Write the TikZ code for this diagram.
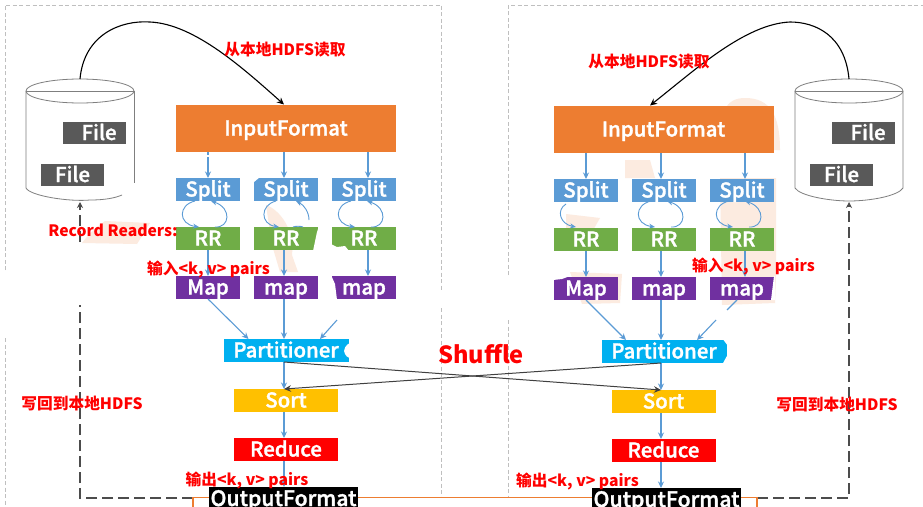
\documentclass[tikz,border=0pt]{standalone}
\usepackage{fontspec}
\usetikzlibrary{arrows.meta}
\setmainfont{Noto Sans CJK SC}
\newfontfamily\whitefont{Noto Sans CJK SC}[UprightFont=* Medium,FakeBold=1.5]
\definecolor{cgrid}{HTML}{BFBFBF}
\definecolor{cblue}{HTML}{5B9BD5}
\definecolor{corange}{HTML}{ED7D31}
\definecolor{cgreen}{HTML}{70AD47}
\definecolor{cpurple}{HTML}{7030A0}
\definecolor{ccyan}{HTML}{00B0F0}
\definecolor{cyellow}{HTML}{FFC000}
\definecolor{cpeach}{HTML}{FCEBE0}
\definecolor{cfile}{HTML}{595959}
\definecolor{cline}{HTML}{7F7F7F}
\tikzset{
  x=1pt,y=-1pt,
  frameline/.style={draw=cgrid,line width=0.8pt,dash pattern=on 4pt off 2.5pt},
  block/.style={inner sep=0pt,outer sep=0pt,text=white,font=\whitefont\fontsize{20.4}{21}\selectfont,text height=14pt,text depth=0pt,align=center},
  small/.style={block,minimum width=64pt,minimum height=23pt},
  wide/.style={block,minimum width=104pt,minimum height=23pt},
  splitbox/.style={small,fill=cblue},
  rrbox/.style={small,fill=cgreen},
  mapbox/.style={small,fill=cpurple},
  inbox/.style={block,fill=corange,minimum width=220pt,minimum height=47pt},
  partbox/.style={block,fill=ccyan,minimum width=125pt,minimum height=23pt},
  sortbox/.style={wide,fill=cyellow},
  redbox/.style={wide,fill=red},
  outbox/.style={block,fill=black,minimum width=149pt,minimum height=30pt,text height=16pt,text depth=8pt,font=\whitefont\fontsize{21.2}{22}\selectfont},
  filebox/.style={block,fill=cfile,minimum width=63pt,minimum height=22pt},
  flow/.style={draw=cblue,line width=1.1pt,-{Stealth[length=6.5pt,width=6pt]}},
  loopline/.style={draw=cblue,line width=0.9pt,-{Stealth[length=6pt,width=5pt]}},
  cross/.style={draw=black!75,line width=1pt,-{Stealth[length=7pt,width=6.5pt]}},
  curved/.style={draw=black,line width=1.1pt,-{Stealth[length=7pt,width=6.5pt]}},
  back/.style={draw=black!70,line width=1.3pt,dash pattern=on 11pt off 5pt},
  backtip/.style={back,-{Stealth[length=6pt,width=6pt]}},
  cyl/.style={draw=cline,line width=0.8pt},
  note/.style={inner sep=0pt,text=red,font=\bfseries\fontsize{15.7}{16}\selectfont},
  peach/.style={fill=cpeach,draw=none},
  orangeline/.style={draw=corange,line width=1.5pt},
}
\newcommand{\looppair}[1]{%
  \draw[loopline] (#1+19,201) .. controls (#1+2,205) and (#1+2,224) .. (#1+23,227);
  \draw[loopline] (#1+39,227) .. controls (#1+54,228) and (#1+56,208) .. (#1+35,201);
}
\begin{document}
\begin{tikzpicture}
\useasboundingbox (0,0) rectangle (923,506);
\clip (0,0) rectangle (923,506);
\fill[white] (0,0) rectangle (923,506);
% peach remains
\path[peach] (82,243) .. controls (90,232) and (100,225) .. (105,221) -- (150,223) -- (137,244) -- cycle;
\path[peach] (266,205) .. controls (280,210) and (295,230) .. (292,255) -- (298,272) -- (280,272) -- (272,245) -- cycle;
\path[peach] (725,110) .. controls (728,102) and (735,98) .. (745,98) .. controls (770,98) and (780,115) .. (780,150) -- (725,150) -- cycle;
\path[peach] (720,178) -- (776,178) -- (776,275) -- (775,303) -- (722,305) -- cycle;
\path[peach] (566,214) -- (600,218) -- (592,232) -- (566,232) -- cycle;
\path[peach] (570,272) -- (622,274) -- (620,303) -- (582,304) -- cycle;
\path[peach] (625,160) -- (650,160) -- (655,178) -- (625,178) -- cycle;
% frames
\coordinate (la) at (5,270); \coordinate (lb) at (5,5); \coordinate (lc) at (441,5); \coordinate (ld) at (441,290);
\draw[frameline] (la) -- (lb) -- (lc) -- (ld);
\coordinate (le) at (5,338); \coordinate (lf) at (5,506); \draw[frameline] (le) -- (lf);
\coordinate (lg) at (441,308); \coordinate (lh) at (441,506); \draw[frameline] (lg) -- (lh);
\coordinate (ra) at (508,275); \coordinate (rb) at (508,5); \coordinate (rc) at (923,5);
\draw[frameline] (ra) -- (rb) -- (rc);
\coordinate (rd) at (508,320); \coordinate (re) at (508,506); \draw[frameline] (rd) -- (re);
% dashed write-back lines and the bottom frame, below the black boxes
\coordinate (cylb) at (80,202); \coordinate (cyld) at (849,202);
\coordinate (ba) at (209,498); \coordinate (bb) at (80,498); \coordinate (bc) at (80,305); \coordinate (bd) at (80,242);
\draw[back] (ba) -- (bb) -- (bc);
\draw[backtip] (bd) -- (cylb);
\coordinate (bf) at (741,498); \coordinate (bg) at (849,498);
\draw[backtip] (bf) -- (bg) -- (cyld);
\coordinate (oa) at (193,510); \coordinate (ob) at (193,497.5); \coordinate (oc) at (757,497.5); \coordinate (od) at (757,510);
\fill[white] (oa) -- (ob) -- (oc) -- (od) -- cycle;
% cylinders
\draw[cyl] (26,91) -- (26,188) .. controls (30,196) and (70,202) .. (90,200) .. controls (105,200) and (115,198) .. (122,195);
\draw[cyl] (134,91) -- (134,183);
\draw[cyl] (80,91) ellipse [x radius=54,y radius=12];
\draw[cyl] (26,91) -- (134,91);
\draw[cyl] (795,91) -- (795,188) .. controls (800,196) and (830,201) .. (849,201) .. controls (870,201) and (898,196) .. (903,188) -- (903,91);
\draw[cyl] (849,91) ellipse [x radius=54,y radius=12];
\draw[cyl] (795,91) -- (903,91);
\node[filebox] (fa) at (94.5,133) {\ \ File};
\node[filebox] (fb) at (72.5,175) {File};
\node[filebox] (fc) at (863.5,133) {\ \ File};
\node[filebox] (fd) at (841.5,175) {File};
\coordinate (cyla) at (80,79);
\coordinate (cylc) at (849,79);
% left column
\node[inbox] (in1) at (286,128.5) {InputFormat};
\node[splitbox] (s1) at (208,189.5) {Split};
\node[splitbox] (s2) at (286,189.5) {Split};
\node[splitbox] (s3) at (364,189.5) {Split};
\node[rrbox] (r1) at (208,238.5) {RR};
\node[rrbox] (r2) at (286,238.5) {RR};
\node[rrbox] (r3) at (364,238.5) {RR};
\node[mapbox] (m1) at (208,287.5) {Map};
\node[mapbox] (m2) at (286,287.5) {map};
\node[mapbox] (m3) at (364,287.5) {map};
\node[partbox] (p) at (286,350.5) {Partitioner};
\node[sortbox] (so) at (286,400.5) {Sort};
\node[redbox] (re1) at (286,449.5) {Reduce};
\node[outbox] (o) at (283.5,502) {OutputFormat};
% right column
\node[inbox] (in2) at (663.5,129.5) {InputFormat};
\node[splitbox] (t1) at (586,190.5) {Split};
\node[splitbox] (t2) at (664,190.5) {Split};
\node[splitbox] (t3) at (742,190.5) {Split};
\node[rrbox] (u1) at (586,239.5) {RR};
\node[rrbox] (u2) at (664,239.5) {RR};
\node[rrbox] (u3) at (742,239.5) {RR};
\node[mapbox] (v1) at (586,288.5) {Map};
\node[mapbox] (v2) at (664,288.5) {map};
\node[mapbox] (v3) at (742,288.5) {map};
\node[partbox] (q) at (664,351.5) {Partitioner};
\node[sortbox] (st) at (663.5,401.5) {Sort};
\node[redbox] (re2) at (663.5,450.5) {Reduce};
\node[outbox] (oo) at (666.5,503) {OutputFormat};
% rubbed-out edges of the shapes
\fill[white] (344,351) .. controls (345,345) and (349,343) .. (351,343) -- (351,358) .. controls (348,358) and (345,356) .. (344,351) -- cycle;
\fill[white] (722,338) -- (728,338) -- (728,346) -- cycle;
\fill[white] (722,365) -- (728,365) -- (728,354) -- cycle;
\fill[white] (319,226) -- (317,232) -- (313,251) -- (319,251) -- cycle;
\fill[white] (331,244) -- (337,247) -- (345,246) -- (349,251) -- (331,251) -- cycle;
\fill[white] (253,177) -- (260,177) -- (254,182) -- cycle;
\fill[white] (331,275) -- (335,284) -- (337,300) -- (331,300) -- cycle;
\fill[white] (553,276) -- (570,276) -- (562,279) -- (553,280) -- cycle;
\fill[white] (775,276) -- (775,300) -- (771,300) -- (774,276) -- cycle;
% flows, left
\coordinate (cla) at (208,0); \coordinate (clb) at (284,0); \coordinate (clc) at (368,0);
\coordinate (cra) at (586,0); \coordinate (crb) at (661,0); \coordinate (crc) at (745,0);
\coordinate (sa) at (208,160);
\draw[draw=cblue,line width=1.1pt,dash pattern=on 3pt off 2pt] (in1.south -| cla) -- (sa);
\draw[flow] (sa) -- (s1.north -| cla);
\draw[flow] (in1.south -| clb) -- (s2.north -| clb);
\draw[flow] (in1.south -| clc) -- (s3.north -| clc);
\draw[flow] (r1.south -| cla) -- (m1.north -| cla);
\draw[flow] (r2.south -| clb) -- (m2.north -| clb);
\draw[flow] (r3.south -| clc) -- (m3.north -| clc);
\coordinate (p1) at (248.5,339); \coordinate (p3) at (320,339); \coordinate (m3x) at (337,320);
\draw[flow] (m1.south -| cla) -- (p1);
\draw[flow] (m2.south -| clb) -- (p.north -| clb);
\draw[flow] (m3x) -- (p3);
\draw[flow] (p.south -| clb) -- (so.north -| clb);
\draw[flow] (so.south -| clb) -- (re1.north -| clb);
\draw[flow] (re1.south -| clb) -- (o.north -| clb);
\looppair{176}
\draw[loopline] (276,201) .. controls (260,205) and (260,224) .. (279,227);
\draw[loopline] (309,220) .. controls (309,212) and (304,205) .. (296,201);
\draw[draw=cblue,line width=0.9pt] (293,227) .. controls (296,226) and (300,226) .. (303,227);
\looppair{332}
% flows, right
\draw[flow] (in2.south -| cra) -- (t1.north -| cra);
\draw[flow] (in2.south -| crb) -- (t2.north -| crb);
\draw[flow] (in2.south -| crc) -- (t3.north -| crc);
\draw[flow] (u1.south -| cra) -- (v1.north -| cra);
\draw[flow] (u2.south -| crb) -- (v2.north -| crb);
\draw[flow] (u3.south -| crc) -- (v3.north -| crc);
\coordinate (q1) at (626,340); \coordinate (q3) at (697,340); \coordinate (v3x) at (716,320);
\coordinate (v3y) at (737,300); \coordinate (v3z) at (727,310);
\draw[flow] (v1.south -| cra) -- (q1);
\draw[flow] (v2.south -| crb) -- (q.north -| crb);
\draw[flow] (v3x) -- (q3);
\draw[draw=cblue,line width=1.1pt] (v3y) -- (v3z);
\draw[flow] (q.south -| crb) -- (st.north -| crb);
\draw[flow] (st.south -| crb) -- (re2.north -| crb);
\draw[flow] (re2.south -| crb) -- (oo.north -| crb);
\looppair{632}
\looppair{710}
\draw[loopline] (566,204) .. controls (556,210) and (560,224) .. (576,227);
% shuffle
\coordinate (xa) at (284,362); \coordinate (xb) at (661,390); \coordinate (xc) at (661,363); \coordinate (xd) at (284,389);
\draw[cross] (xa) -- (xb);
\draw[cross] (xc) -- (xd);
% curved
\draw[curved] (cyla) .. controls (84,35) and (120,20) .. (150,22) .. controls (195,24) and (245,70) .. (284,104.5);
\draw[curved] (cylc) .. controls (845,35) and (815,22) .. (790,22) .. controls (745,24) and (695,70) .. (650,105.5);
% bottom frame, in pieces between the black boxes
\draw[orangeline] (oa) -- (ob) -- (o.west |- ob);
\draw[orangeline] (o.east |- ob) -- (oo.west |- oc);
\draw[orangeline] (oo.east |- oc) -- (oc) -- (od);
% labels
\node[note] (n1) at (285,50) {从本地HDFS读取};
\node[note] (n2) at (649,62) {从本地HDFS读取};
\node[note] (n3) at (113,230) {Record Readers:};
\node[note] (n4) at (208.5,269) {输入<k, v> pairs};
\node[note] (n5) at (753.5,266) {输入<k, v> pairs};
\node[note] (n6) at (247,480) {输出<k, v> pairs};
\node[note] (n7) at (577.5,481) {输出<k, v> pairs};
\node[note] (n8) at (82,404) {写回到本地HDFS};
\node[note] (n9) at (837,405) {写回到本地HDFS};
\node[note,font=\bfseries\fontsize{23.6}{24}\selectfont] (n10) at (481,354) {Shuffle};
\end{tikzpicture}
\end{document}
